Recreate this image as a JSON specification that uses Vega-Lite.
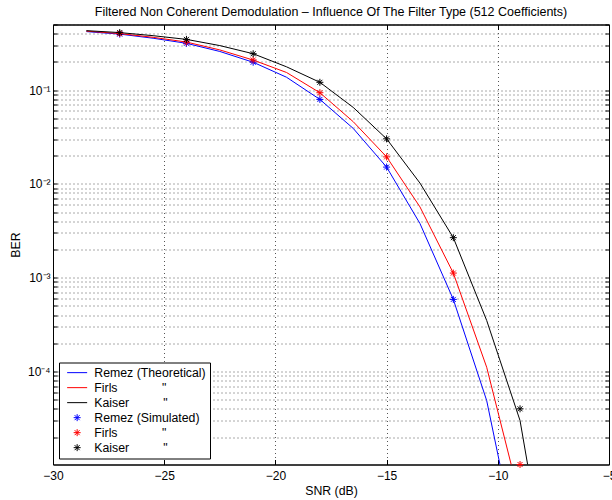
{
  "$schema": "https://vega.github.io/schema/vega-lite/v6.json",
  "width": 556,
  "height": 440,
  "autosize": "none",
  "padding": {"left": 53, "top": 24.5, "right": 3, "bottom": 35.5},
  "background": "white",
  "title": {"text": "Filtered Non Coherent Demodulation – Influence Of The Filter Type (512 Coefficients)", "fontSize": 12.5, "font": "Liberation Sans", "fontWeight": "normal", "offset": 6, "color": "#000"},
  "config": {
    "view": {"stroke": "#000", "strokeWidth": 1},
    "font": "Liberation Sans",
    "axis": {"labelFont": "Liberation Sans", "titleFont": "Liberation Sans", "labelFontSize": 12, "titleFontSize": 12.3, "titleFontWeight": "normal", "labelColor": "#000", "titleColor": "#000", "domainColor": "#000", "tickColor": "#000", "gridColor": "#555", "gridDash": [1, 3], "gridOpacity": 1, "gridWidth": 1, "labelFlush": false},
    "legend": {"orient": "bottom-left", "offset": 6, "padding": 4, "strokeColor": "#000", "fillColor": "#fff", "labelFont": "Liberation Sans", "labelFontSize": 12.3, "labelColor": "#000", "symbolSize": 100, "symbolStrokeWidth": 1, "rowPadding": 2, "labelOffset": 11, "symbolOffset": 8}
  },
  "datasets": {
    "theory": [
      {"snr": -28.5, "ber": 0.42, "series": "Remez (Theoretical)"},
      {"snr": -27, "ber": 0.395, "series": "Remez (Theoretical)"},
      {"snr": -25.5, "ber": 0.357, "series": "Remez (Theoretical)"},
      {"snr": -24, "ber": 0.315, "series": "Remez (Theoretical)"},
      {"snr": -22.5, "ber": 0.258, "series": "Remez (Theoretical)"},
      {"snr": -21, "ber": 0.198, "series": "Remez (Theoretical)"},
      {"snr": -19.5, "ber": 0.137, "series": "Remez (Theoretical)"},
      {"snr": -18, "ber": 0.0795, "series": "Remez (Theoretical)"},
      {"snr": -16.5, "ber": 0.039, "series": "Remez (Theoretical)"},
      {"snr": -15, "ber": 0.0151, "series": "Remez (Theoretical)"},
      {"snr": -13.5, "ber": 0.00378, "series": "Remez (Theoretical)"},
      {"snr": -12, "ber": 0.000587, "series": "Remez (Theoretical)"},
      {"snr": -10.5, "ber": 0.000049, "series": "Remez (Theoretical)"},
      {"snr": -9, "ber": 0.00000095, "series": "Remez (Theoretical)"},
      {"snr": -28.5, "ber": 0.425, "series": "Firls (Theoretical)"},
      {"snr": -27, "ber": 0.4, "series": "Firls (Theoretical)"},
      {"snr": -25.5, "ber": 0.365, "series": "Firls (Theoretical)"},
      {"snr": -24, "ber": 0.325, "series": "Firls (Theoretical)"},
      {"snr": -22.5, "ber": 0.268, "series": "Firls (Theoretical)"},
      {"snr": -21, "ber": 0.209, "series": "Firls (Theoretical)"},
      {"snr": -19.5, "ber": 0.154, "series": "Firls (Theoretical)"},
      {"snr": -18, "ber": 0.0937, "series": "Firls (Theoretical)"},
      {"snr": -16.5, "ber": 0.046, "series": "Firls (Theoretical)"},
      {"snr": -15, "ber": 0.0194, "series": "Firls (Theoretical)"},
      {"snr": -13.5, "ber": 0.00568, "series": "Firls (Theoretical)"},
      {"snr": -12, "ber": 0.00112, "series": "Firls (Theoretical)"},
      {"snr": -10.5, "ber": 0.000111, "series": "Firls (Theoretical)"},
      {"snr": -9, "ber": 0.0000043, "series": "Firls (Theoretical)"},
      {"snr": -28.5, "ber": 0.43, "series": "Kaiser (Theoretical)"},
      {"snr": -27, "ber": 0.41, "series": "Kaiser (Theoretical)"},
      {"snr": -25.5, "ber": 0.38, "series": "Kaiser (Theoretical)"},
      {"snr": -24, "ber": 0.347, "series": "Kaiser (Theoretical)"},
      {"snr": -22.5, "ber": 0.298, "series": "Kaiser (Theoretical)"},
      {"snr": -21, "ber": 0.244, "series": "Kaiser (Theoretical)"},
      {"snr": -19.5, "ber": 0.177, "series": "Kaiser (Theoretical)"},
      {"snr": -18, "ber": 0.121, "series": "Kaiser (Theoretical)"},
      {"snr": -16.5, "ber": 0.0653, "series": "Kaiser (Theoretical)"},
      {"snr": -15, "ber": 0.0302, "series": "Kaiser (Theoretical)"},
      {"snr": -13.5, "ber": 0.0102, "series": "Kaiser (Theoretical)"},
      {"snr": -12, "ber": 0.00267, "series": "Kaiser (Theoretical)"},
      {"snr": -10.5, "ber": 0.00035, "series": "Kaiser (Theoretical)"},
      {"snr": -9, "ber": 0.00003, "series": "Kaiser (Theoretical)"},
      {"snr": -7.5, "ber": 0.00000026, "series": "Kaiser (Theoretical)"}
    ],
    "sim": [
      {"snr": -27, "ber": 0.395, "series": "Remez (Simulated)"},
      {"snr": -24, "ber": 0.315, "series": "Remez (Simulated)"},
      {"snr": -21, "ber": 0.198, "series": "Remez (Simulated)"},
      {"snr": -18, "ber": 0.0795, "series": "Remez (Simulated)"},
      {"snr": -15, "ber": 0.0151, "series": "Remez (Simulated)"},
      {"snr": -12, "ber": 0.000587, "series": "Remez (Simulated)"},
      {"snr": -27, "ber": 0.4, "series": "Firls (Simulated)"},
      {"snr": -24, "ber": 0.325, "series": "Firls (Simulated)"},
      {"snr": -21, "ber": 0.209, "series": "Firls (Simulated)"},
      {"snr": -18, "ber": 0.0937, "series": "Firls (Simulated)"},
      {"snr": -15, "ber": 0.0194, "series": "Firls (Simulated)"},
      {"snr": -12, "ber": 0.00112, "series": "Firls (Simulated)"},
      {"snr": -9, "ber": 0.0000102, "series": "Firls (Simulated)"},
      {"snr": -27, "ber": 0.41, "series": "Kaiser (Simulated)"},
      {"snr": -24, "ber": 0.347, "series": "Kaiser (Simulated)"},
      {"snr": -21, "ber": 0.244, "series": "Kaiser (Simulated)"},
      {"snr": -18, "ber": 0.121, "series": "Kaiser (Simulated)"},
      {"snr": -15, "ber": 0.0302, "series": "Kaiser (Simulated)"},
      {"snr": -12, "ber": 0.00267, "series": "Kaiser (Simulated)"},
      {"snr": -9, "ber": 0.00004, "series": "Kaiser (Simulated)"}
    ]
  },
  "layer": [
    {
      "data": {"name": "theory"},
      "mark": {"type": "line", "clip": true, "strokeWidth": 1},
      "encoding": {
        "x": {"field": "snr", "type": "quantitative", "scale": {"domain": [-30, -5], "nice": false, "zero": false},
          "axis": {"orient": "bottom", "values": [-30, -25, -20, -15, -10, -5], "grid": true, "tickSize": -5, "labelPadding": 11, "labelFlush": false, "title": "SNR (dB)", "titlePadding": 3, "format": "d"}},
        "y": {"field": "ber", "type": "quantitative", "scale": {"type": "log", "domain": [0.0000102, 0.5], "nice": false},
          "axis": {"orient": "left", "values": [0.00002, 0.00003, 0.00004, 0.00005, 0.00006, 0.00007, 0.00008, 0.00009, 0.0001, 0.0002, 0.0003, 0.0004, 0.0005, 0.0006, 0.0007, 0.0008, 0.0009, 0.001, 0.002, 0.003, 0.004, 0.005, 0.006, 0.007, 0.008, 0.009, 0.01, 0.02, 0.03, 0.04, 0.05, 0.06, 0.07, 0.08, 0.09, 0.1, 0.2, 0.3, 0.4, 0.5],
            "grid": true, "tickSize": -4, "labelPadding": 7, "labelFlush": false, "title": "BER", "titlePadding": 5,
            "labelExpr": "datum.value == 0.1 ? '10⁻¹' : datum.value == 0.01 ? '10⁻²' : datum.value == 0.001 ? '10⁻³' : datum.value == 0.0001 ? '10⁻⁴' : ''"}},
        "color": {"field": "series", "type": "nominal",
          "scale": {"domain": ["Remez (Theoretical)", "Firls (Theoretical)", "Kaiser (Theoretical)", "Remez (Simulated)", "Firls (Simulated)", "Kaiser (Simulated)"], "range": ["#0000ff", "#ff0000", "#000000", "#0000ff", "#ff0000", "#000000"]},
          "legend": {"title": null, "labelExpr": "indexof(datum.label, 'Firls') == 0 ? 'Firls\u00a0\u00a0\u00a0\u00a0\u00a0\u00a0\u00a0\u00a0\u00a0\u00a0\u00a0\u00a0\u00a0\"' : indexof(datum.label, 'Kaiser') == 0 ? 'Kaiser\u00a0\u00a0\u00a0\u00a0\u00a0\u00a0\u00a0\u00a0\u00a0\u00a0\"' : datum.label"}}
      }
    },
    {
      "data": {"name": "sim"},
      "mark": {"type": "point", "filled": false, "size": 100, "strokeWidth": 1, "opacity": 1},
      "encoding": {
        "x": {"field": "snr", "type": "quantitative",
          "axis": {"orient": "top", "values": [-30, -25, -20, -15, -10, -5], "grid": false, "labels": false, "tickSize": -5, "title": null}},
        "y": {"field": "ber", "type": "quantitative",
          "axis": {"orient": "right", "values": [0.00002, 0.00003, 0.00004, 0.00005, 0.00006, 0.00007, 0.00008, 0.00009, 0.0001, 0.0002, 0.0003, 0.0004, 0.0005, 0.0006, 0.0007, 0.0008, 0.0009, 0.001, 0.002, 0.003, 0.004, 0.005, 0.006, 0.007, 0.008, 0.009, 0.01, 0.02, 0.03, 0.04, 0.05, 0.06, 0.07, 0.08, 0.09, 0.1, 0.2, 0.3, 0.4, 0.5], "grid": false, "labels": false, "tickSize": -4, "title": null}},
        "color": {"field": "series", "type": "nominal"},
        "shape": {"field": "series", "type": "nominal",
          "scale": {"domain": ["Remez (Theoretical)", "Firls (Theoretical)", "Kaiser (Theoretical)", "Remez (Simulated)", "Firls (Simulated)", "Kaiser (Simulated)"],
            "range": ["M-2,0L2,0", "M-2,0L2,0", "M-2,0L2,0", "M-0.7,0L0.7,0M0,-0.7L0,0.7M-0.5,-0.5L0.5,0.5M-0.5,0.5L0.5,-0.5", "M-0.7,0L0.7,0M0,-0.7L0,0.7M-0.5,-0.5L0.5,0.5M-0.5,0.5L0.5,-0.5", "M-0.7,0L0.7,0M0,-0.7L0,0.7M-0.5,-0.5L0.5,0.5M-0.5,0.5L0.5,-0.5"]},
          "legend": {"title": null, "labelExpr": "indexof(datum.label, 'Firls') == 0 ? 'Firls\u00a0\u00a0\u00a0\u00a0\u00a0\u00a0\u00a0\u00a0\u00a0\u00a0\u00a0\u00a0\u00a0\"' : indexof(datum.label, 'Kaiser') == 0 ? 'Kaiser\u00a0\u00a0\u00a0\u00a0\u00a0\u00a0\u00a0\u00a0\u00a0\u00a0\"' : datum.label"}}
      }
    }
  ],
  "resolve": {"axis": {"x": "independent", "y": "independent"}}
}
